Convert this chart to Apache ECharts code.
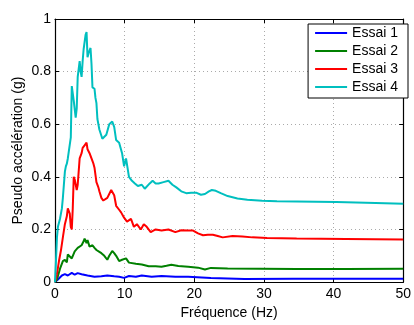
<!DOCTYPE html>
<html><head><meta charset="utf-8">
<script src="https://cdn.jsdelivr.net/npm/echarts@6/dist/echarts.min.js"></script>
<style>html,body{margin:0;padding:0;background:#fff}#c{width:414px;height:325px}</style>
</head><body><div id="c"></div>
<script>
var seriesNames = ['Essai 1', 'Essai 2', 'Essai 3', 'Essai 4'];
var xTicks = [0, 10, 20, 30, 40, 50];
var yTicks = [0, 0.2, 0.4, 0.6, 0.8, 1];

var freq1 = [0,0.42,0.99,1.42,1.84,2.41,2.83,3.26,3.82,4.67,5.67,6.66,7.51,8.50,9.21,9.92,10.62,11.61,12.46,13.88,15.30,17.28,19.12,22.38,27.20,34.28,41.78,50];
var acc1 = [0,0.01,0.025,0.03,0.025,0.035,0.028,0.034,0.03,0.025,0.02,0.022,0.025,0.022,0.02,0.016,0.023,0.02,0.025,0.02,0.023,0.02,0.02,0.016,0.012,0.013,0.013,0.013];

var freq2 = [0,0.28,0.71,1.13,1.42,1.70,1.84,2.12,2.41,2.83,3.26,3.54,3.82,4.11,4.25,4.53,4.67,4.96,5.38,5.67,5.95,6.37,6.66,7.08,7.51,7.79,8.22,8.50,8.78,9.21,9.63,10.20,10.62,11.61,12.46,13.46,14.45,15.30,16.01,16.71,17.71,19.12,20.54,21.53,22.38,24.79,29.46,34.70,41.78,50];
var acc2 = [0,0.01,0.05,0.08,0.085,0.075,0.105,0.1,0.09,0.117,0.13,0.135,0.14,0.155,0.165,0.148,0.16,0.135,0.14,0.13,0.122,0.115,0.11,0.1,0.085,0.1,0.118,0.11,0.1,0.08,0.085,0.09,0.074,0.07,0.067,0.06,0.06,0.058,0.062,0.066,0.061,0.058,0.055,0.048,0.054,0.052,0.051,0.05,0.05,0.051];

var freq3 = [0,0.28,0.57,0.85,1.13,1.42,1.70,1.84,1.98,2.12,2.27,2.41,2.55,2.69,2.83,3.12,3.26,3.54,3.82,3.97,4.25,4.53,4.67,4.82,4.96,5.24,5.52,5.67,5.95,6.23,6.37,6.66,6.94,7.22,7.51,7.79,8.07,8.22,8.50,8.78,9.21,9.49,9.92,10.34,10.91,11.33,11.76,12.32,12.75,13.17,13.74,14.45,15.30,16.29,17.28,18.13,19.12,19.83,20.54,21.25,21.95,22.66,23.37,24.08,25.50,26.91,28.33,30.45,34.70,41.78,50];
var acc3 = [0,0.03,0.08,0.12,0.17,0.22,0.25,0.28,0.275,0.26,0.21,0.2,0.28,0.40,0.39,0.35,0.37,0.47,0.49,0.51,0.52,0.53,0.505,0.51,0.49,0.47,0.45,0.435,0.38,0.36,0.345,0.32,0.31,0.315,0.32,0.335,0.35,0.35,0.33,0.29,0.275,0.265,0.245,0.23,0.24,0.21,0.22,0.2,0.22,0.21,0.19,0.2,0.196,0.2,0.19,0.197,0.196,0.196,0.185,0.178,0.18,0.18,0.175,0.17,0.175,0.173,0.17,0.168,0.166,0.164,0.162];

var freq4 = [0,0.14,0.28,0.42,0.71,0.99,1.13,1.42,1.56,1.70,1.84,2.12,2.27,2.41,2.55,2.69,2.97,3.12,3.26,3.54,3.68,3.82,3.97,4.11,4.39,4.53,4.67,4.82,5.10,5.24,5.38,5.67,5.81,5.95,6.09,6.37,6.80,7.08,7.37,7.79,8.22,8.50,8.78,9.21,9.63,9.92,10.20,10.62,11.05,11.47,11.90,12.18,12.46,12.89,13.17,13.60,14.02,14.45,14.87,15.58,16.29,16.86,17.42,18.13,18.84,19.55,20.25,20.96,21.53,22.10,22.52,23.09,23.80,24.79,26.20,27.62,29.75,31.87,34.70,40.37,46.03,50];
var acc4 = [0,0.08,0.17,0.21,0.24,0.28,0.32,0.42,0.44,0.45,0.47,0.47,0.55,0.745,0.74,0.69,0.625,0.66,0.78,0.84,0.80,0.78,0.84,0.885,0.94,0.95,0.855,0.87,0.89,0.83,0.74,0.735,0.70,0.68,0.62,0.58,0.545,0.55,0.56,0.60,0.61,0.59,0.54,0.53,0.49,0.44,0.47,0.40,0.385,0.375,0.365,0.36,0.37,0.355,0.35,0.375,0.385,0.375,0.375,0.38,0.385,0.37,0.36,0.345,0.338,0.34,0.34,0.332,0.335,0.345,0.35,0.347,0.338,0.327,0.318,0.313,0.309,0.307,0.306,0.304,0.301,0.298];

var colors = ['#0000ff', '#008000', '#ff0000', '#00bfbf'];
var freqs = [freq1, freq2, freq3, freq4];
var accs = [acc1, acc2, acc3, acc4];

function pairs(xs, ys) { return xs.map(function (x, i) { return [x, ys[i]]; }); }

var font = "Arial, 'Liberation Sans', sans-serif";
var chart = echarts.init(document.getElementById('c'), null, { renderer: 'canvas' });

function xAx(pos, main) {
  return {
    type: 'value', position: pos, min: xTicks[0], max: xTicks[xTicks.length - 1], interval: 10,
    axisLine: { show: true, onZero: false, lineStyle: { color: '#000', width: 1.2 } },
    axisTick: { show: true, inside: true, length: 4, lineStyle: { color: '#000' } },
    axisLabel: { show: main, color: '#000', fontSize: 14, fontFamily: font, margin: 5 },
    splitLine: { show: main, lineStyle: { color: '#aaa', type: [1, 3], width: 1 } },
    name: main ? 'Fréquence (Hz)' : '', nameLocation: 'middle', nameGap: 23,
    nameTextStyle: { color: '#000', fontSize: 14, fontFamily: font }
  };
}
function yAx(pos, main) {
  return {
    type: 'value', position: pos, min: yTicks[0], max: yTicks[yTicks.length - 1], interval: 0.2,
    axisLine: { show: true, onZero: false, lineStyle: { color: '#000', width: 1.2 } },
    axisTick: { show: true, inside: true, length: 4, lineStyle: { color: '#000' } },
    axisLabel: { show: main, color: '#000', fontSize: 14, fontFamily: font, margin: 4,
      formatter: function (v) { return String(Math.round(v * 10) / 10); } },
    splitLine: { show: main, lineStyle: { color: '#aaa', type: [1, 3], width: 1 } },
    name: main ? 'Pseudo accélération (g)' : '', nameLocation: 'middle', nameGap: 30,
    nameMoveOverlap: false,
    nameTextStyle: { color: '#000', fontSize: 14, fontFamily: font }
  };
}

chart.setOption({
  animation: false,
  backgroundColor: '#fff',
  grid: { left: 55, right: 6, top: 19, bottom: 35, containLabel: false },
  xAxis: [xAx('bottom', true), xAx('top', false)],
  yAxis: [yAx('left', true), yAx('right', false)],
  legend: {
    orient: 'vertical', right: 6, top: 24,
    data: seriesNames,
    backgroundColor: '#fff', borderColor: '#000', borderWidth: 1, borderRadius: 0,
    padding: [2, 10, 4, 6], itemGap: 4, itemWidth: 32, itemHeight: 14,
    itemStyle: { opacity: 0 },
    textStyle: { color: '#000', fontSize: 14, fontFamily: font }
  },
  series: seriesNames.map(function (n, i) {
    return {
      name: n, type: 'line', xAxisIndex: 0, yAxisIndex: 0,
      data: pairs(freqs[i], accs[i]),
      showSymbol: false, symbol: 'none', smooth: false,
      lineStyle: { color: colors[i], width: 2 }, itemStyle: { color: colors[i] },
      z: 3 + i
    };
  })
});
</script></body></html>
